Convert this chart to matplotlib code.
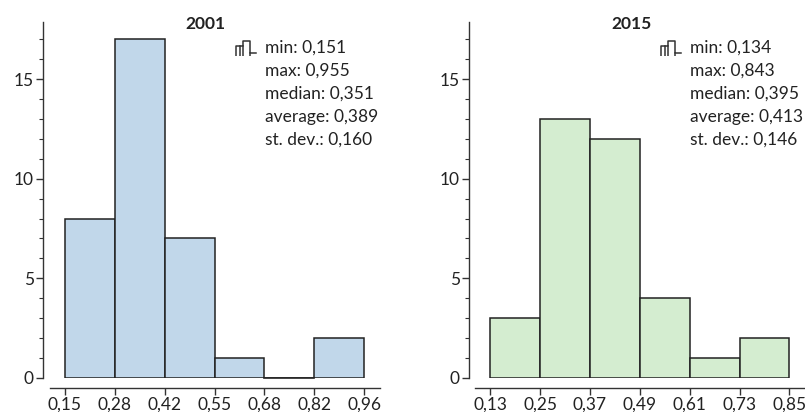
import matplotlib.pyplot as plt

plt.rcParams['font.family'] = ['Lato', 'DejaVu Sans']
plt.rcParams['font.size'] = 12.5

# data
edges_2001 = [0.151, 0.285, 0.419, 0.553, 0.687, 0.821, 0.955]
counts_2001 = [8, 17, 7, 1, 0, 2]
labels_2001 = ['0,15', '0,28', '0,42', '0,55', '0,68', '0,82', '0,96']
stats_2001 = ['min: 0,151', 'max: 0,955', 'median: 0,351', 'average: 0,389', 'st. dev.: 0,160']

edges_2015 = [0.134, 0.252, 0.370, 0.488, 0.607, 0.725, 0.843]
counts_2015 = [3, 13, 12, 4, 1, 2]
labels_2015 = ['0,13', '0,25', '0,37', '0,49', '0,61', '0,73', '0,85']
stats_2015 = ['min: 0,134', 'max: 0,843', 'median: 0,395', 'average: 0,413', 'st. dev.: 0,146']

W, H = 805, 412
fig = plt.figure(figsize=(W / 100, H / 100), dpi=100)


def panel(left_px, right_px, bar_left_px, bar_right_px, line_left_px,
          edges, counts, labels, stats, title, color, title_px, stats_px):
    ax = fig.add_axes([left_px / W, (H - 378) / H, (right_px - left_px) / W, 356 / H])
    ppu = (bar_right_px - bar_left_px) / (edges[-1] - edges[0])
    x0 = edges[0] - (bar_left_px - left_px) / ppu
    x1 = edges[0] + (right_px - bar_left_px) / ppu
    widths = [edges[i + 1] - edges[i] for i in range(len(counts))]
    ax.bar(edges[:-1], counts, width=widths, align='edge', color=color,
           edgecolor='#222222', linewidth=1.1, zorder=2)
    # empty bins still show their baseline
    for i, c in enumerate(counts):
        if c == 0:
            ax.plot([edges[i], edges[i + 1]], [0, 0], color='#222222', lw=1.2, zorder=3,
                    clip_on=False)
    ax.set_xlim(x0, x1)
    ax.set_ylim(0, 17.86)
    ax.set_xticks(edges)
    ax.set_xticklabels(labels)
    ax.set_yticks([0, 5, 10, 15])
    ax.set_yticks(range(0, 18), minor=True)
    for s in ['top', 'right']:
        ax.spines[s].set_visible(False)
    ax.spines['bottom'].set_position(('outward', 7))
    ax.spines['bottom'].set_bounds(edges[0] - (bar_left_px - line_left_px) / ppu, x1)
    for s in ['left', 'bottom']:
        ax.spines[s].set_color('#333333')
        ax.spines[s].set_linewidth(1.0)
    ax.tick_params(axis='both', which='major', length=5, width=1.0, color='#333333',
                   labelcolor='#222222', pad=1.5)
    ax.tick_params(axis='y', which='minor', length=3, width=0.8, color='#333333')
    ax.tick_params(axis='x', which='minor', length=0)
    ax.patch.set_alpha(0)

    fig.text(title_px / W, 1 - 24 / H, title, ha='center', va='center',
             fontweight='bold', fontsize=12.5, color='#222222')
    for i, s in enumerate(stats):
        fig.text(stats_px / W, 1 - (48 + 23 * i) / H, s, ha='left', va='center',
                 color='#222222')

    # small histogram icon
    ix = stats_px - 30
    icon = fig.add_axes([ix / W, 1 - 56 / H, 22 / W, 16 / H])
    icon.plot([0, 0, 3, 3, 5.5, 5.5, 8],
              [0, 0.62, 0.62, 1.0, 1.0, 0.2, 0.2],
              color='#333333', lw=1.1)
    icon.plot([1.5, 1.5], [0, 0.62], color='#333333', lw=1.1)
    icon.plot([3, 3], [0, 0.62], color='#333333', lw=1.1)
    icon.plot([5.5, 5.5], [0, 0.2], color='#333333', lw=1.1)
    icon.set_xlim(-0.3, 8.3)
    icon.set_ylim(-0.02, 1.05)
    icon.axis('off')
    return ax


panel(43, 380, 65, 364, 50, edges_2001, counts_2001, labels_2001, stats_2001,
      '2001', '#c1d7ea', 205, 265)
panel(469, 805, 490.3, 789.3, 475, edges_2015, counts_2015, labels_2015, stats_2015,
      '2015', '#d4edd0', 631, 690)

fig.savefig('out.png', dpi=100)
